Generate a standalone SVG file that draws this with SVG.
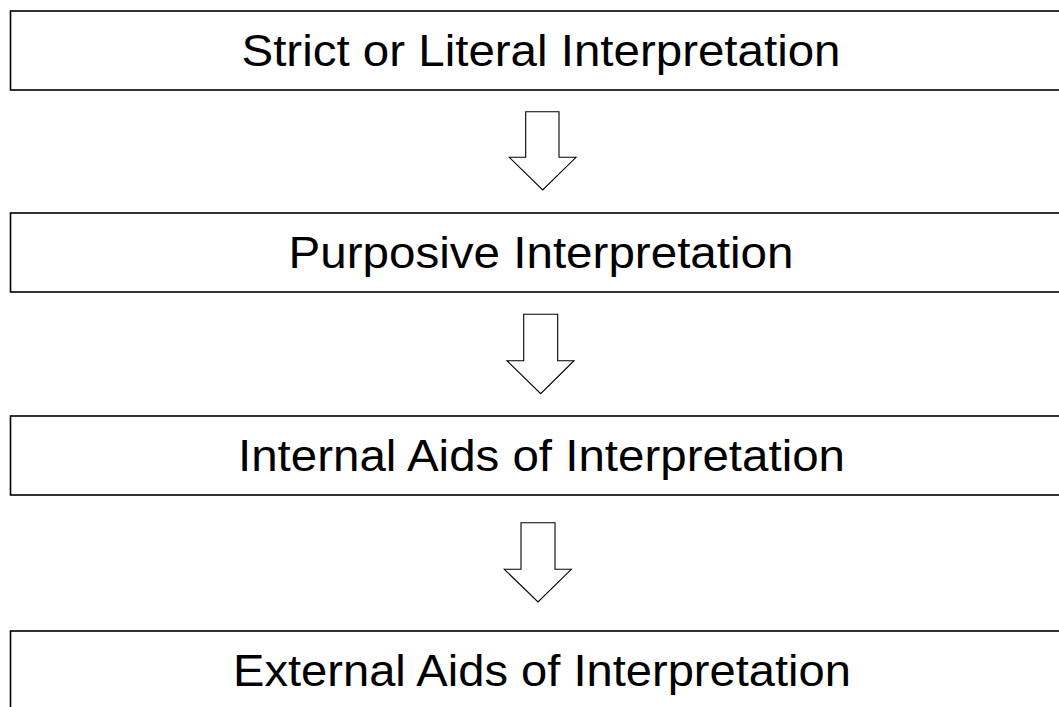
<svg xmlns="http://www.w3.org/2000/svg" width="1059" height="707" viewBox="0 0 1059 707">
<style>
.box{fill:#fff;stroke:#000;stroke-width:1.6}
.lbl{font-family:"Liberation Sans",Arial,sans-serif;font-size:44px;fill:#000;text-anchor:middle}
.arr{fill:#fff;stroke:#000;stroke-width:1.1;stroke-linejoin:miter}
</style>
<rect width="1059" height="707" fill="#fff"/>
<g id="n1"><rect class="box" x="10.5" y="11" width="1060" height="79"/><text class="lbl" x="541" y="65.5" textLength="599" lengthAdjust="spacingAndGlyphs">Strict or Literal Interpretation</text></g>
<g id="n2"><rect class="box" x="10.5" y="213" width="1060" height="79"/><text class="lbl" x="541" y="267.5" textLength="505" lengthAdjust="spacingAndGlyphs">Purposive Interpretation</text></g>
<g id="n3"><rect class="box" x="10.5" y="416" width="1060" height="79"/><text class="lbl" x="541.5" y="470.5" textLength="607" lengthAdjust="spacingAndGlyphs">Internal Aids of Interpretation</text></g>
<g id="n4"><rect class="box" x="10.5" y="631" width="1060" height="100"/><text class="lbl" x="542" y="685.5" textLength="618" lengthAdjust="spacingAndGlyphs">External Aids of Interpretation</text></g>
<g id="connectors">
<polygon class="arr" points="525.7,111.7 559,111.7 559,157.3 576,157.3 542.7,190 509.3,157.3 525.7,157.3"/>
<polygon class="arr" points="523.7,314.3 557.7,314.3 557.7,360.7 574,360.7 540.7,393.7 507,360.7 523.7,360.7"/>
<polygon class="arr" points="521,522.7 555,522.7 555,569.3 571.3,569.3 538,602 504.3,569.3 521,569.3"/>
</g>
</svg>
